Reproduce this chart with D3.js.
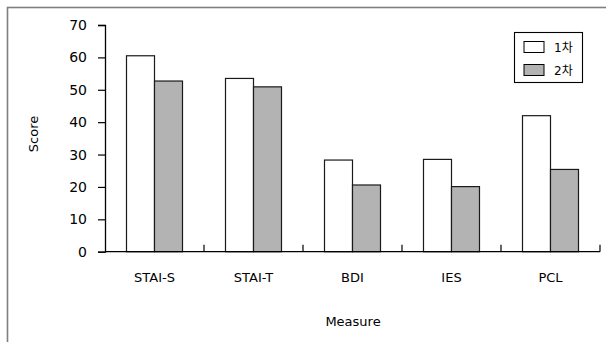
<!DOCTYPE html>
<html>
<head>
<meta charset="utf-8">
<script src="https://cdn.jsdelivr.net/npm/d3@7"></script>
<style>
  html, body { margin: 0; padding: 0; background: #fff; }
  svg text { font-family: "DejaVu Sans", "Noto Sans CJK KR", sans-serif; fill: #000; }
</style>
</head>
<body>
<svg id="chart" width="606" height="342"></svg>
<script>
// Measures and scores for the two assessment rounds
const measures = ["STAI-S", "STAI-T", "BDI", "IES", "PCL"];
const seriesNames = ["1차", "2차"];
const round1 = [60.5, 53.5, 28.3, 28.5, 42.0];
const round2 = [52.7, 50.9, 20.6, 20.1, 25.4];
const yTicks = [0, 10, 20, 30, 40, 50, 60, 70];
const seriesFill = ["#ffffff", "#b3b3b3"];

const svg = d3.select("#chart");
const W = 606, H = 342;

// outer frame (gray)
svg.append("rect")
  .attr("x", 7.5).attr("y", 7.5)
  .attr("width", W + 10).attr("height", H + 10)
  .attr("fill", "none").attr("stroke", "#7f7f7f").attr("stroke-width", 1.6);

const x = d3.scaleBand().domain(measures).range([105, 600]);
const y = d3.scaleLinear().domain([0, 70]).range([251.7, 25]);
const xs = d3.scaleBand().domain(seriesNames).range([0, 56]);

// bars
const groups = svg.append("g").selectAll("g")
  .data(measures)
  .join("g")
  .attr("transform", d => `translate(${x(d) + x.bandwidth() / 2 - 28},0)`);

groups.selectAll("rect")
  .data((d, i) => [round1[i], round2[i]].map((v, k) => ({ v, k })))
  .join("rect")
  .attr("x", d => xs(seriesNames[d.k]))
  .attr("y", d => y(d.v))
  .attr("width", xs.bandwidth())
  .attr("height", d => y(0) - y(d.v))
  .attr("fill", d => seriesFill[d.k])
  .attr("stroke", "#1a1a1a")
  .attr("stroke-width", 1.2);

// y axis
const yAxis = svg.append("g")
  .attr("transform", "translate(105,0)")
  .call(d3.axisLeft(y).tickValues(yTicks).tickSize(7).tickPadding(11));
yAxis.select(".domain").attr("stroke", "#000").attr("stroke-width", 1.3);
yAxis.selectAll(".tick line").attr("stroke", "#000").attr("stroke-width", 1.2);
yAxis.selectAll("text").attr("font-size", 14).attr("fill", "#000")
  .attr("font-family", "DejaVu Sans");

// x axis line with inward boundary ticks
const xAxisG = svg.append("g");
xAxisG.append("line")
  .attr("x1", 105).attr("x2", 600)
  .attr("y1", y(0)).attr("y2", y(0))
  .attr("stroke", "#000").attr("stroke-width", 1.3);
const bounds = measures.map(m => x(m)).concat([x(measures[measures.length - 1]) + x.bandwidth()]);
xAxisG.selectAll("line.b")
  .data(bounds.slice(1))
  .join("line")
  .attr("class", "b")
  .attr("x1", d => d).attr("x2", d => d)
  .attr("y1", y(0)).attr("y2", y(0) - 7)
  .attr("stroke", "#000").attr("stroke-width", 1.2);
xAxisG.selectAll("text")
  .data(measures)
  .join("text")
  .attr("x", d => x(d) + x.bandwidth() / 2)
  .attr("y", 282)
  .attr("text-anchor", "middle")
  .attr("font-size", 13)
  .text(d => d);

// axis titles
svg.append("text")
  .attr("transform", "translate(37.5,134) rotate(-90)")
  .attr("text-anchor", "middle")
  .attr("font-size", 13)
  .text("Score");
svg.append("text")
  .attr("x", 353).attr("y", 326)
  .attr("text-anchor", "middle")
  .attr("font-size", 13)
  .text("Measure");

// legend
const lg = svg.append("g");
lg.append("rect")
  .attr("x", 514.5).attr("y", 32.5).attr("width", 68).attr("height", 50)
  .attr("fill", "#fff").attr("stroke", "#000").attr("stroke-width", 1.1);
const items = lg.selectAll("g.item")
  .data(seriesNames)
  .join("g")
  .attr("class", "item")
  .attr("transform", (d, i) => `translate(524,${41.5 + i * 23})`);
items.append("rect")
  .attr("width", 20).attr("height", 11)
  .attr("fill", (d, i) => seriesFill[i])
  .attr("stroke", "#000").attr("stroke-width", 1);
items.append("text")
  .attr("x", 30).attr("y", 10)
  .attr("font-size", 12)
  .attr("font-family", "Noto Sans CJK KR")
  .text(d => d);
</script>
</body>
</html>
